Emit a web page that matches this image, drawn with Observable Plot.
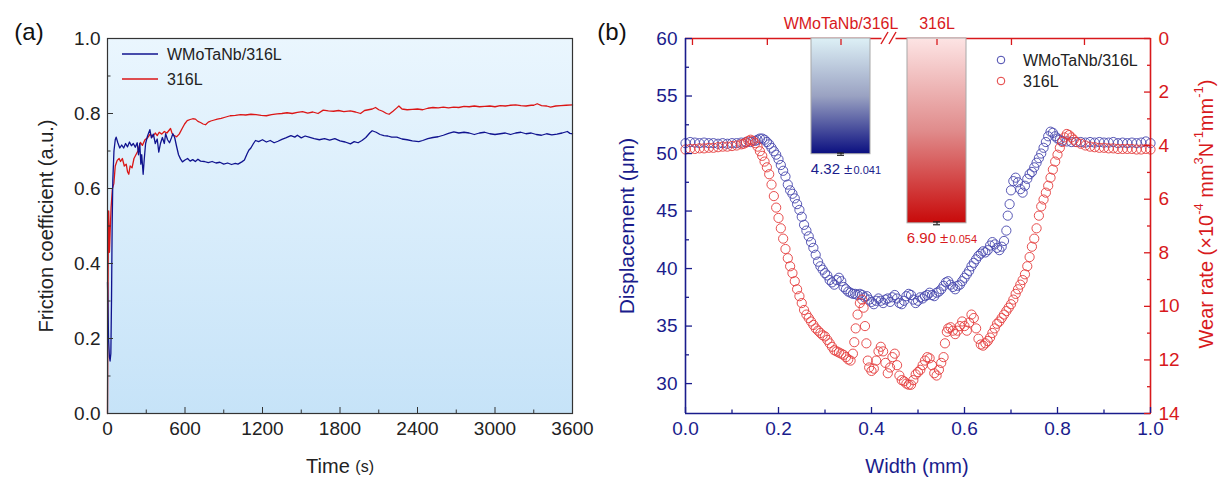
<!DOCTYPE html>
<html><head><meta charset="utf-8">
<script src="https://cdn.jsdelivr.net/npm/d3@7"></script>
<script src="https://cdn.jsdelivr.net/npm/@observablehq/plot@0.6"></script>
<style>
body{margin:0;background:#fff;}
#wrap{position:relative;width:1225px;height:480px;}
#wrap svg{position:absolute;left:0;top:0;}
</style></head><body><div id="wrap"></div>
<script>
// ---------- DATA ----------
const seriesNames = ["WMoTaNb/316L", "316L"];
// (a) friction coefficient vs time [s, COF]
const blueFriction = [[0,0.35],[8,0.2],[15,0.15],[20,0.14],[26,0.16],[31,0.3],[36,0.5],[41,0.62],[50,0.70],[60,0.73],[67,0.737],[80,0.722],[95,0.708],[110,0.716],[125,0.708],[140,0.72],[155,0.711],[170,0.724],[185,0.714],[200,0.72],[215,0.71],[230,0.722],[240,0.69],[250,0.72],[258,0.665],[265,0.69],[276,0.638],[285,0.68],[295,0.72],[310,0.74],[328,0.757],[340,0.735],[355,0.745],[370,0.72],[385,0.732],[397,0.697],[410,0.72],[425,0.736],[440,0.72],[450,0.746],[465,0.73],[480,0.722],[495,0.735],[506,0.746],[520,0.736],[535,0.712],[550,0.69],[565,0.679],[580,0.671],[600,0.676],[620,0.68],[640,0.673],[660,0.677],[680,0.672],[700,0.678],[720,0.673],[750,0.672],[780,0.669],[810,0.672],[840,0.668],[870,0.670],[900,0.665],[930,0.668],[960,0.664],[990,0.667],[1010,0.665],[1040,0.671],[1060,0.676],[1080,0.692],[1094,0.702],[1110,0.708],[1130,0.720],[1146,0.728],[1170,0.725],[1200,0.730],[1230,0.724],[1260,0.728],[1290,0.722],[1320,0.726],[1350,0.731],[1380,0.735],[1420,0.741],[1450,0.737],[1470,0.742],[1500,0.735],[1530,0.740],[1560,0.737],[1600,0.733],[1640,0.730],[1680,0.733],[1720,0.729],[1760,0.733],[1800,0.727],[1840,0.724],[1881,0.719],[1910,0.725],[1940,0.722],[1970,0.728],[2000,0.736],[2030,0.748],[2049,0.754],[2080,0.750],[2110,0.744],[2140,0.741],[2170,0.740],[2200,0.737],[2240,0.737],[2280,0.732],[2320,0.730],[2360,0.727],[2410,0.725],[2440,0.728],[2480,0.733],[2520,0.736],[2560,0.738],[2600,0.742],[2640,0.747],[2681,0.751],[2720,0.748],[2760,0.750],[2800,0.748],[2840,0.744],[2880,0.748],[2920,0.750],[2960,0.746],[3000,0.744],[3040,0.746],[3080,0.748],[3120,0.744],[3160,0.748],[3200,0.750],[3240,0.746],[3280,0.748],[3320,0.744],[3360,0.742],[3400,0.746],[3440,0.743],[3480,0.745],[3520,0.748],[3560,0.752],[3580,0.747],[3600,0.746]];
const redFriction = [[0,0],[3,0.25],[6,0.45],[9,0.54],[12,0.5],[15,0.43],[20,0.48],[28,0.55],[38,0.6],[49,0.613],[60,0.66],[75,0.675],[90,0.68],[101,0.672],[115,0.68],[130,0.66],[145,0.665],[155,0.645],[165,0.638],[175,0.66],[190,0.655],[205,0.68],[220,0.69],[235,0.70],[255,0.723],[270,0.715],[290,0.73],[310,0.735],[330,0.745],[350,0.738],[370,0.748],[385,0.741],[400,0.75],[420,0.745],[440,0.752],[460,0.748],[488,0.76],[500,0.747],[513,0.742],[535,0.738],[555,0.745],[578,0.76],[597,0.772],[617,0.781],[640,0.784],[660,0.786],[681,0.785],[700,0.779],[720,0.776],[740,0.772],[759,0.770],[780,0.777],[800,0.780],[820,0.782],[850,0.785],[880,0.787],[910,0.790],[950,0.794],[990,0.795],[1030,0.797],[1070,0.796],[1110,0.798],[1150,0.797],[1190,0.795],[1230,0.794],[1270,0.797],[1313,0.799],[1350,0.800],[1390,0.802],[1430,0.800],[1470,0.803],[1510,0.805],[1550,0.801],[1590,0.804],[1630,0.800],[1670,0.809],[1710,0.807],[1750,0.806],[1790,0.808],[1830,0.805],[1880,0.807],[1920,0.804],[1959,0.800],[1990,0.808],[2020,0.810],[2050,0.812],[2075,0.816],[2100,0.810],[2130,0.806],[2160,0.800],[2180,0.798],[2210,0.806],[2240,0.815],[2256,0.820],[2280,0.812],[2320,0.810],[2360,0.811],[2400,0.812],[2440,0.810],[2480,0.814],[2520,0.816],[2560,0.815],[2600,0.817],[2640,0.815],[2680,0.817],[2720,0.816],[2760,0.819],[2800,0.818],[2840,0.820],[2880,0.818],[2920,0.819],[2960,0.820],[3000,0.818],[3040,0.821],[3080,0.820],[3120,0.822],[3160,0.823],[3200,0.821],[3240,0.820],[3280,0.822],[3300,0.822],[3327,0.826],[3360,0.821],[3400,0.820],[3430,0.817],[3470,0.820],[3510,0.821],[3550,0.822],[3600,0.823]];
const timeTicks = [0, 600, 1200, 1800, 2400, 3000, 3600];
const timeMinorTicks = [300, 900, 1500, 2100, 2700, 3300];
const cofTicks = [0, 0.2, 0.4, 0.6, 0.8, 1.0];
const cofMinorTicks = [0.1, 0.3, 0.5, 0.7, 0.9];

// (b) wear track profiles [width mm, displacement µm]
const blueProfile = [[0.00,50.9],[0.01,51.0],[0.02,50.95],[0.03,50.9],[0.04,50.95],[0.05,50.9],[0.06,50.9],[0.07,50.85],[0.08,50.9],[0.09,50.85],[0.10,50.9],[0.11,50.9],[0.12,50.95],[0.13,51.0],[0.14,51.0],[0.15,51.1],[0.155,51.2],[0.16,51.3],[0.165,51.3],[0.17,51.2],[0.175,51.0],[0.18,50.8],[0.185,50.5],[0.19,50.2],[0.195,49.9],[0.20,49.5],[0.205,49.0],[0.21,48.5],[0.215,48.0],[0.22,47.3],[0.225,46.8],[0.23,46.5],[0.235,46.1],[0.24,45.6],[0.245,45.1],[0.25,44.5],[0.255,43.8],[0.26,43.3],[0.265,42.8],[0.27,42.3],[0.275,41.8],[0.28,41.2],[0.285,40.6],[0.29,40.2],[0.295,39.9],[0.30,39.6],[0.305,39.4],[0.31,39.0],[0.315,38.8],[0.32,38.6],[0.325,39.0],[0.33,39.2],[0.335,38.9],[0.34,38.4],[0.345,38.2],[0.35,38.0],[0.355,37.9],[0.36,37.8],[0.365,37.8],[0.37,37.7],[0.375,37.8],[0.38,37.7],[0.385,37.5],[0.39,37.6],[0.395,37.3],[0.40,37.1],[0.405,36.9],[0.41,37.2],[0.415,37.4],[0.42,37.2],[0.425,37.0],[0.43,37.3],[0.435,37.4],[0.44,37.1],[0.445,37.5],[0.45,37.7],[0.455,37.4],[0.46,37.0],[0.465,36.9],[0.47,37.2],[0.475,37.6],[0.48,37.8],[0.485,37.7],[0.49,37.3],[0.495,37.0],[0.50,37.2],[0.505,37.5],[0.51,37.4],[0.515,37.6],[0.52,37.7],[0.525,37.9],[0.53,37.7],[0.535,37.6],[0.54,37.9],[0.545,38.0],[0.55,38.2],[0.555,38.5],[0.56,38.8],[0.565,38.9],[0.57,38.6],[0.575,38.4],[0.58,38.2],[0.585,38.5],[0.59,38.6],[0.595,38.9],[0.60,39.2],[0.605,39.5],[0.61,39.8],[0.615,40.2],[0.62,40.5],[0.625,40.8],[0.63,41.1],[0.635,41.3],[0.64,41.5],[0.645,41.4],[0.65,41.6],[0.655,42.0],[0.66,42.3],[0.665,42.1],[0.67,41.8],[0.675,41.6],[0.68,41.9],[0.685,42.4],[0.69,43.3],[0.693,44.6],[0.697,45.6],[0.70,46.8],[0.705,47.6],[0.71,47.9],[0.715,47.5],[0.72,46.9],[0.725,46.6],[0.73,47.2],[0.735,47.8],[0.74,48.2],[0.745,48.4],[0.75,48.8],[0.755,49.2],[0.76,49.6],[0.765,50.0],[0.77,50.5],[0.775,51.0],[0.78,51.5],[0.785,51.9],[0.79,51.8],[0.795,51.5],[0.80,51.3],[0.805,51.2],[0.81,51.1],[0.82,51.05],[0.83,51.0],[0.84,51.0],[0.85,51.0],[0.86,50.95],[0.87,51.0],[0.88,50.95],[0.89,51.0],[0.90,50.95],[0.91,50.95],[0.92,51.0],[0.93,50.9],[0.94,50.95],[0.95,50.9],[0.96,50.95],[0.97,50.9],[0.98,50.95],[0.99,51.05],[1.00,50.9]];
const redProfile = [[0.00,50.35],[0.01,50.4],[0.02,50.4],[0.03,50.45],[0.04,50.45],[0.05,50.5],[0.06,50.5],[0.07,50.55],[0.08,50.6],[0.09,50.6],[0.10,50.65],[0.11,50.7],[0.12,50.8],[0.125,50.85],[0.13,50.95],[0.135,51.1],[0.14,51.2],[0.145,51.1],[0.15,50.9],[0.155,50.6],[0.16,50.2],[0.165,49.8],[0.17,49.3],[0.175,48.8],[0.18,48.2],[0.185,47.3],[0.19,46.3],[0.195,45.3],[0.20,44.4],[0.205,43.5],[0.21,42.6],[0.215,41.7],[0.22,40.9],[0.225,40.2],[0.23,39.6],[0.235,38.9],[0.24,38.2],[0.245,37.6],[0.25,37.0],[0.255,36.4],[0.26,36.0],[0.265,35.7],[0.27,35.4],[0.275,35.1],[0.28,34.8],[0.285,34.6],[0.29,34.4],[0.295,34.2],[0.30,34.1],[0.305,33.8],[0.31,33.5],[0.315,33.2],[0.32,32.9],[0.325,32.8],[0.33,32.7],[0.335,32.6],[0.34,32.5],[0.345,32.3],[0.35,32.1],[0.355,32.0],[0.36,32.6],[0.363,33.6],[0.366,34.8],[0.37,36.0],[0.375,37.0],[0.38,37.3],[0.383,36.6],[0.386,35.0],[0.389,33.5],[0.392,32.0],[0.395,31.4],[0.40,31.1],[0.405,31.3],[0.41,32.0],[0.415,32.8],[0.42,33.2],[0.425,32.8],[0.43,31.8],[0.435,30.9],[0.44,31.4],[0.445,32.3],[0.45,32.6],[0.455,31.6],[0.46,30.7],[0.465,30.3],[0.47,30.2],[0.475,30.0],[0.48,29.9],[0.485,29.9],[0.49,30.3],[0.495,30.8],[0.50,31.0],[0.505,31.2],[0.51,31.6],[0.515,32.0],[0.52,32.3],[0.525,32.2],[0.53,31.6],[0.535,30.9],[0.54,30.7],[0.545,31.2],[0.55,31.8],[0.555,32.3],[0.558,33.5],[0.562,34.5],[0.565,34.8],[0.57,34.9],[0.575,34.6],[0.58,34.3],[0.585,34.6],[0.59,35.0],[0.595,35.4],[0.60,35.0],[0.605,34.6],[0.61,35.3],[0.615,36.0],[0.62,35.7],[0.625,34.8],[0.63,33.9],[0.635,33.4],[0.64,33.3],[0.645,33.5],[0.65,33.7],[0.655,34.0],[0.66,34.4],[0.665,34.8],[0.67,35.2],[0.675,35.4],[0.68,35.7],[0.685,36.0],[0.69,36.3],[0.695,36.6],[0.70,36.9],[0.705,37.3],[0.71,37.8],[0.715,38.2],[0.72,38.6],[0.725,39.0],[0.73,39.5],[0.735,40.2],[0.74,41.0],[0.745,41.9],[0.75,42.6],[0.755,43.5],[0.76,44.6],[0.765,45.4],[0.77,46.0],[0.775,46.6],[0.78,47.2],[0.785,47.9],[0.79,48.6],[0.795,49.3],[0.80,49.9],[0.805,50.5],[0.81,51.0],[0.815,51.4],[0.82,51.7],[0.825,51.6],[0.83,51.4],[0.835,51.2],[0.84,51.0],[0.85,50.85],[0.86,50.7],[0.87,50.6],[0.88,50.55],[0.89,50.5],[0.90,50.5],[0.91,50.45],[0.92,50.45],[0.93,50.4],[0.94,50.4],[0.95,50.4],[0.96,50.4],[0.97,50.35],[0.98,50.35],[0.99,50.4],[1.00,50.35]];
const widthTicks = [0, 0.2, 0.4, 0.6, 0.8, 1.0];
const widthMinorTicks = [0.1, 0.3, 0.5, 0.7, 0.9];
const dispTicks = [30, 35, 40, 45, 50, 55, 60];
const dispMinorTicks = [32.5, 37.5, 42.5, 47.5, 52.5, 57.5];
const topAxisTicks = [0.015, 0.176, 0.701, 0.858];

// (b) wear rate bars (×10^-4 mm^3 N^-1 mm^-1)
const wearSamples = ["WMoTaNb/316L", "316L"];
const wearRates = [4.32, 6.90];
const wearErrors = [0.041, 0.054];
const rateTicks = [0, 2, 4, 6, 8, 10, 12, 14];
const rateMinorTicks = [1, 3, 5, 7, 9, 11, 13];

// ---------- STYLE ----------
const FONT = '"Liberation Sans", Arial, sans-serif';
const NAVY = "#1a1c8c";
const RED = "#d8191c";
const LINE_BLUE = "#10138f";
const LINE_RED = "#db1616";
const DOT_BLUE = "#4646ad";
const DOT_RED = "#e43b3b";
const W = 1225, H = 480;
const wrap = document.getElementById("wrap");
const baseStyle = {fontFamily: FONT, fontSize: "19px", background: "transparent", overflow: "visible"};

function addText(svg, {x, y, parts, size = 20, fill = "#222", rotate = 0, anchor = "middle"}) {
  const t = d3.select(svg).append("text")
    .attr("transform", `translate(${x},${y}) rotate(${rotate})`)
    .attr("text-anchor", anchor).attr("dominant-baseline", "central")
    .attr("font-family", FONT).attr("font-size", size).attr("fill", fill);
  for (const p of parts) {
    const s = typeof p === "string" ? {t: p} : p;
    const ts = t.append("tspan").text(s.t);
    if (s.size) ts.attr("font-size", s.size);
    if (s.dy) ts.attr("dy", s.dy);
  }
  return t;
}

// ---------- PANEL (a) ----------
const pa = Plot.plot({
  width: W, height: H,
  marginLeft: 107, marginRight: W - 572, marginTop: 38, marginBottom: H - 413,
  style: {...baseStyle, color: "#222"},
  x: {domain: [0, 3600]},
  y: {domain: [0, 1]},
  marks: [
    Plot.frame({fill: "url(#bgA)", stroke: "none"}),
    Plot.line(redFriction, {x: d => d[0], y: d => d[1], stroke: LINE_RED, strokeWidth: 1.3}),
    Plot.line(blueFriction, {x: d => d[0], y: d => d[1], stroke: LINE_BLUE, strokeWidth: 1.3}),
    Plot.frame({stroke: "#333", strokeWidth: 1.2}),
    Plot.axisX({ticks: timeTicks, tickSize: 6, dy: -6, fill: "none", stroke: "#333", label: null}),
    Plot.axisX({ticks: timeMinorTicks, tickSize: 3.5, dy: -3.5, fill: "none", stroke: "#333", label: null}),
    Plot.axisX({ticks: timeTicks, tickSize: 0, tickPadding: 8, fill: "#222", label: null, tickFormat: d3.format("d")}),
    Plot.axisY({ticks: cofTicks, tickSize: 6, dx: 6, fill: "none", stroke: "#333", label: null}),
    Plot.axisY({ticks: cofMinorTicks, tickSize: 3.5, dx: 3.5, fill: "none", stroke: "#333", label: null}),
    Plot.axisY({ticks: cofTicks, tickSize: 0, tickPadding: 7, fill: "#222", label: null, tickFormat: d3.format(".1f")})
  ]
});
d3.select(pa).insert("defs", ":first-child").html(`
  <linearGradient id="bgA" x1="0" y1="0" x2="0" y2="1">
    <stop offset="0" stop-color="#eaf6fe"/><stop offset="1" stop-color="#c6e3f8"/>
  </linearGradient>`);
wrap.appendChild(pa);
// legend (a)
{
  const g = d3.select(pa).append("g");
  [[LINE_BLUE, 54], [LINE_RED, 79]].forEach(([c, y], i) => {
    g.append("line").attr("x1", 122).attr("x2", 158).attr("y1", y).attr("y2", y).attr("stroke", c).attr("stroke-width", 1.4);
    addText(pa, {x: 167, y, parts: [seriesNames[i]], size: 16, anchor: "start", fill: "#222"});
  });
}
addText(pa, {x: 29, y: 31, parts: ["(a)"], size: 24, fill: "#111"});
addText(pa, {x: 46, y: 226, parts: ["Friction coefficient (a.u.)"], size: 20, rotate: -90});
addText(pa, {x: 340, y: 466, parts: ["Time ", {t: "(s)", size: 16}], size: 20});

// ---------- PANEL (b) base: profiles ----------
const pb = Plot.plot({
  width: W, height: H,
  marginLeft: 685, marginRight: W - 1150, marginTop: 38, marginBottom: H - 413,
  style: {...baseStyle, color: NAVY},
  x: {domain: [0, 1]},
  y: {domain: [27.4, 60]},
  marks: [
    Plot.dot(blueProfile, {x: d => d[0], y: d => d[1], r: 4.6, stroke: DOT_BLUE, strokeWidth: 0.9, fill: "none"}),
    Plot.dot(redProfile, {x: d => d[0], y: d => d[1], r: 4.6, stroke: DOT_RED, strokeWidth: 0.9, fill: "none"}),
    Plot.ruleY([60], {stroke: RED, strokeWidth: 1.6}),
    Plot.ruleX([1], {stroke: RED, strokeWidth: 1.6}),
    Plot.ruleX([0], {stroke: NAVY, strokeWidth: 1.6}),
    Plot.ruleY([27.4], {stroke: NAVY, strokeWidth: 1.6}),
    Plot.axisX({ticks: widthTicks, tickSize: 6, dy: -6, fill: "none", stroke: NAVY, strokeWidth: 1.3, label: null}),
    Plot.axisX({ticks: widthMinorTicks, tickSize: 3.5, dy: -3.5, fill: "none", stroke: NAVY, strokeWidth: 1.3, label: null}),
    Plot.axisX({ticks: widthTicks, tickSize: 0, tickPadding: 8, fill: NAVY, label: null, tickFormat: d3.format(".1f")}),
    Plot.axisX({anchor: "top", ticks: topAxisTicks, tickSize: 6, dy: 6, fill: "none", stroke: RED, strokeWidth: 1.3, label: null}),
    Plot.axisY({ticks: dispTicks, tickSize: 7, dx: 7, fill: "none", stroke: NAVY, strokeWidth: 1.3, label: null}),
    Plot.axisY({ticks: dispMinorTicks, tickSize: 4, dx: 4, fill: "none", stroke: NAVY, strokeWidth: 1.3, label: null}),
    Plot.axisY({ticks: dispTicks, tickSize: 0, tickPadding: 8, fill: NAVY, label: null})
  ]
});
wrap.appendChild(pb);

// ---------- PANEL (b) overlay: wear-rate bars ----------
const wear = wearSamples.map((s, i) => ({sample: s, rate: wearRates[i], err: wearErrors[i]}));
const barFills = ["url(#gBlue)", "url(#gRed)"];
const labelFills = [NAVY, RED];
const barMarks = wear.flatMap((w, i) => [
  Plot.barY([w], {x: "sample", y: "rate", fill: barFills[i], stroke: "#a8a8a8", strokeWidth: 1}),
  Plot.ruleX([w], {x: "sample", y1: d => d.rate - d.err, y2: d => d.rate + d.err, stroke: "#222", strokeWidth: 1.2}),
  Plot.tickY([w], {x: "sample", y: d => d.rate - d.err, stroke: "#222", strokeWidth: 1.2, insetLeft: 26, insetRight: 26}),
  Plot.tickY([w], {x: "sample", y: d => d.rate + d.err, stroke: "#222", strokeWidth: 1.2, insetLeft: 26, insetRight: 26}),
  Plot.text([w], {x: "sample", y: "rate", text: d => d.rate.toFixed(2), textAnchor: "end", dx: -1, dy: 15, fill: labelFills[i], fontSize: 15}),
  Plot.text([w], {x: "sample", y: "rate", text: d => "±", textAnchor: "start", dx: 3, dy: 15, fill: labelFills[i], fontSize: 15}),
  Plot.text([w], {x: "sample", y: "rate", text: d => String(d.err), textAnchor: "start", dx: 12.5, dy: 16.5, fill: labelFills[i], fontSize: 11})
]);
const pc = Plot.plot({
  width: W, height: H,
  marginLeft: 685, marginRight: W - 1150, marginTop: 38, marginBottom: H - 413,
  style: {...baseStyle, color: RED},
  x: {type: "band", domain: wearSamples, range: [810.3, 965.7], paddingInner: 0.388, paddingOuter: 0},
  y: {domain: [0, 14], reverse: true},
  marks: [
    ...barMarks,
    Plot.axisX({anchor: "top", tickSize: 6, dy: 6, fill: "none", stroke: RED, strokeWidth: 1.3, label: null}),
    Plot.axisX({anchor: "top", tickSize: 0, tickPadding: 10, fill: RED, fontSize: 16, label: null}),
    Plot.axisY({anchor: "right", ticks: rateTicks, tickSize: 7, dx: -7, fill: "none", stroke: RED, strokeWidth: 1.3, label: null}),
    Plot.axisY({anchor: "right", ticks: rateMinorTicks, tickSize: 4, dx: -4, fill: "none", stroke: RED, strokeWidth: 1.3, label: null}),
    Plot.axisY({anchor: "right", ticks: rateTicks, tickSize: 0, tickPadding: 8, fill: RED, label: null})
  ]
});
d3.select(pc).insert("defs", ":first-child").html(`
  <linearGradient id="gBlue" x1="0" y1="0" x2="0" y2="1">
    <stop offset="0" stop-color="#ddf0f6"/><stop offset="0.5" stop-color="#9aa2c2"/><stop offset="1" stop-color="#0b0f80"/>
  </linearGradient>
  <linearGradient id="gRed" x1="0" y1="0" x2="0" y2="1">
    <stop offset="0" stop-color="#fde4e4"/><stop offset="0.5" stop-color="#e08c8c"/><stop offset="1" stop-color="#c80a0a"/>
  </linearGradient>`);
wrap.appendChild(pc);
// axis break between the two bars
{
  const xs = pc.scale("x");
  const mid = (xs.apply(wearSamples[0]) + xs.bandwidth + xs.apply(wearSamples[1])) / 2;
  const g = d3.select(pc).append("g");
  g.append("rect").attr("x", mid - 7).attr("y", 35).attr("width", 14).attr("height", 6).attr("fill", "#fff");
  [-4, 4].forEach(o => g.append("line").attr("x1", mid + o - 3.5).attr("y1", 44).attr("x2", mid + o + 3.5).attr("y2", 32)
    .attr("stroke", RED).attr("stroke-width", 1.4));
}
// legend (b)
{
  const g = d3.select(pc).append("g");
  [[DOT_BLUE, 60], [DOT_RED, 81]].forEach(([c, y], i) => {
    g.append("circle").attr("cx", 1001).attr("cy", y).attr("r", 3.8).attr("fill", "none").attr("stroke", c).attr("stroke-width", 1);
    addText(pc, {x: 1023, y, parts: [seriesNames[i]], size: 16, anchor: "start", fill: "#222"});
  });
}
addText(pc, {x: 612, y: 31, parts: ["(b)"], size: 24, fill: "#111"});
addText(pc, {x: 626, y: 226, parts: ["Displacement (μm)"], size: 21, rotate: -90, fill: NAVY});
addText(pc, {x: 917, y: 466, parts: ["Width (mm)"], size: 20, fill: NAVY});
addText(pc, {x: 1206, y: 214, rotate: -90, size: 20, fill: RED, parts: [
  "Wear rate (×10", {t: "-4", size: 13, dy: -8}, {t: " mm", dy: 8}, {t: "3", size: 13, dy: -8},
  {t: "N", dy: 8}, {t: "-1", size: 13, dy: -8}, {t: "mm", dy: 8}, {t: "-1", size: 13, dy: -8}, {t: ")", dy: 8}
]});
</script></body></html>
